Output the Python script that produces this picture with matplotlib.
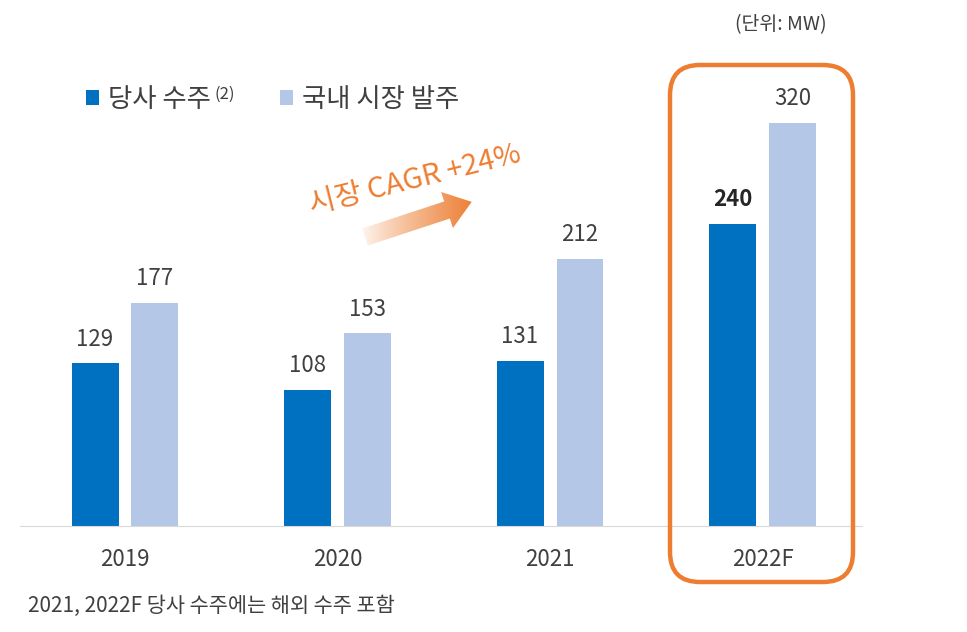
import matplotlib.pyplot as plt
import numpy as np
from matplotlib.patches import FancyBboxPatch, FancyArrow

plt.rcParams['font.family'] = ['Noto Sans CJK KR', 'DejaVu Sans']

years = ['2019', '2020', '2021', '2022F']
company_orders = [129, 108, 131, 240]
market_orders = [177, 153, 212, 320]
series_names = ['당사 수주', '국내 시장 발주']

DARK = '#0070C0'
LIGHT = '#B4C7E7'
ORANGE = '#ED7D31'
TEXT = '#404040'

fig = plt.figure(figsize=(9.67, 6.32), dpi=100)
ax = fig.add_axes([20 / 967, 1 - 526 / 632, 842 / 967, 486 / 632])

x = np.arange(len(years))
w = 0.221
off = 0.141
b1 = ax.bar(x - off, company_orders, w, color=DARK, label=series_names[0])
b2 = ax.bar(x + off, market_orders, w, color=LIGHT, label=series_names[1])

for i, (r1, r2) in enumerate(zip(b1, b2)):
    last = i == len(years) - 1
    ax.annotate(str(company_orders[i]), (r1.get_x() + r1.get_width() / 2, r1.get_height()),
                xytext=(0, 9), textcoords='offset points', ha='center', va='bottom',
                fontsize=16, fontweight='bold' if last else 'normal',
                color='#262626' if last else TEXT)
    ax.annotate(str(market_orders[i]), (r2.get_x() + r2.get_width() / 2, r2.get_height()),
                xytext=(0, 9), textcoords='offset points', ha='center', va='bottom',
                fontsize=16, color=TEXT)

ax.set_xlim(-0.494, 3.468)
ax.set_ylim(0, 385.7)
ax.set_xticks(x)
ax.set_xticklabels(years, fontsize=16, color=TEXT)
ax.tick_params(axis='x', length=0, pad=16)
ax.set_yticks([])
for s in ['top', 'left', 'right']:
    ax.spines[s].set_visible(False)
ax.spines['bottom'].set_color('#D9D9D9')

leg = ax.legend(loc='upper left', bbox_to_anchor=(86 / 967, 1 - 86 / 632),
                bbox_transform=fig.transFigure, ncol=2, frameon=False,
                fontsize=19, handlelength=0.5, handleheight=0.5,
                handletextpad=0.35, columnspacing=2.6,
                borderpad=0, borderaxespad=0)
for t in leg.get_texts():
    t.set_color(TEXT)

# overlay in pixel coordinates for annotations
ov = fig.add_axes([0, 0, 1, 1], zorder=5)
ov.set_xlim(0, 967)
ov.set_ylim(632, 0)
ov.axis('off')

# superscript "(2)" right after the first legend label
fig.canvas.draw()
bb = leg.get_texts()[0].get_window_extent()
ov.text(bb.x1 + 3, 86, '(2)', fontsize=12, color=TEXT, ha='left', va='top')

box = FancyBboxPatch((670, 65), 183, 517, boxstyle='round,pad=0,rounding_size=30',
                     fill=False, edgecolor=ORANGE, linewidth=3.2)
ov.add_patch(box)

arrow = FancyArrow(365, 237, 82, -27, width=18, head_width=38, head_length=26,
                   length_includes_head=False, facecolor='none', edgecolor='none')
ov.add_patch(arrow)
grad = np.zeros((10, 256, 4))
grad[..., :3] = np.array([0xED, 0x7D, 0x31]) / 255
grad[..., 3] = np.linspace(0, 1, 256) ** 0.8
img = ov.imshow(grad, extent=(358, 476, 262, 180), aspect='auto', zorder=4)
img.set_clip_path(arrow)
ov.set_xlim(0, 967)
ov.set_ylim(632, 0)

ov.text(415, 180, '시장 CAGR +24%', fontsize=21, color=ORANGE, rotation=14,
        ha='center', va='center', rotation_mode='anchor')
ov.text(781, 25, '(단위: MW)', fontsize=14, color=TEXT, ha='center', va='center')
ov.text(28, 606, '2021, 2022F 당사 수주에는 해외 수주 포함', fontsize=15, color=TEXT,
        ha='left', va='center')

fig.savefig('out.png', dpi=100)
